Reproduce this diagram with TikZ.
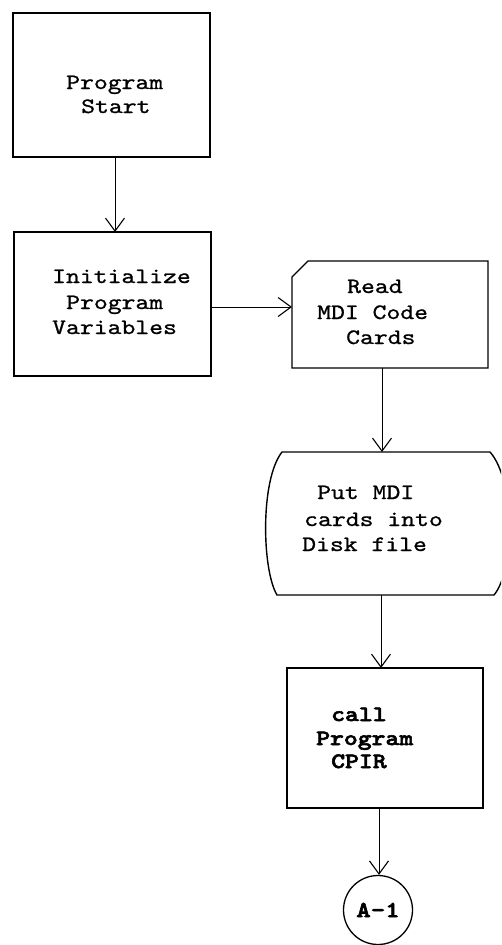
\documentclass[tikz,border=0pt]{standalone}
\usepackage{fontspec}
\usetikzlibrary{arrows.meta,calc}
% typewriter faces, widened to a 10-pitch character cell
\newfontfamily\tw[FakeBold=0.9, FakeStretch=1.2]{lmmono10-regular.otf}
\newfontfamily\twb[FakeBold=2.6, FakeStretch=1.2]{lmmonolt10-bold.otf}
\begin{document}
\begin{tikzpicture}[x=1pt,y=-1pt,
  boxline/.style={line width=1.4pt, line join=miter},
  proc/.style={draw, boxline, rectangle, inner sep=0pt, outer sep=0pt},
  flow/.style={line width=0.9pt, -{Straight Barb[length=13pt,width=19pt,line width=1.1pt]}},
  txt/.style={anchor=base west, inner sep=0pt, font=\tw\fontsize{22}{25.5}\selectfont},
  btxt/.style={txt, font=\twb\fontsize{22}{25.5}\selectfont},
]
\useasboundingbox (0,0) rectangle (501,945);

% process boxes
\node[proc, minimum width=197pt, minimum height=144pt] (start) at (111.5,85) {};
\node[proc, minimum width=197pt, minimum height=144pt] (init) at (112.5,304) {};
\node[proc, minimum width=196pt, minimum height=140pt] (call) at (385,738) {};

% card input (corner cut off)
\node[rectangle, inner sep=0pt, outer sep=0pt, minimum width=196pt, minimum height=107pt] (read) at (390,314.5) {};
\draw[boxline] ($(read.north west)+(0,16)$) -- ($(read.north west)+(16,0)$)
  -- (read.north east) -- (read.south east) -- (read.south west) -- cycle;

% display / disk output
\node[rectangle, inner sep=0pt, outer sep=0pt, minimum width=230pt, minimum height=143pt] (disp) at (385,523.5) {};
\begin{scope}
  \clip (0,0) rectangle (501,945);
  \draw[boxline] (282,452) -- (490,452)
    .. controls (515,480) and (515,570) .. (494,595)
    -- (277,595)
    .. controls (262,570) and (260,480) .. (282,452) -- cycle;
\end{scope}

% connector
\node[draw, circle, line width=1.3pt, minimum size=69pt, inner sep=0pt,
      font=\twb\fontsize{23}{25.5}\selectfont] (a1) at (378,910) {A-1};

% texts
\node[txt] (t1a) at (66,89) {Program};
\node[txt] (t1b) at (81,113) {Start};
\node[txt] (t2a) at (52,283) {Initialize};
\node[txt] (t2b) at (66,309) {Program};
\node[txt] (t2c) at (52,334) {Variables};
\node[txt] (t3a) at (347,293) {Read};
\node[txt] (t3b) at (317,319) {MDI Code};
\node[txt] (t3c) at (346,344) {Cards};
\node[txt] (t4a) at (317,499) {Put MDI};
\node[txt] (t4b) at (304,526) {cards into};
\node[txt] (t4c) at (302,551) {Disk file};
\node[btxt] (t5a) at (331,721) {call};
\node[btxt] (t5b) at (316,745) {Program};
\node[btxt] (t5c) at (331,768) {CPIR};

% flow lines
\coordinate (ax1) at (115,0);
\coordinate (ay) at (0,307);
\coordinate (ax2) at (382,0);
\coordinate (ax3) at (381,0);
\coordinate (ax4) at (379,0);
\draw[flow] (start.south -| ax1) -- (init.north -| ax1);
\draw[flow] (init.east |- ay) -- (read.west |- ay);
\draw[flow] (read.south -| ax2) -- (disp.north -| ax2);
\draw[flow] (disp.south -| ax3) -- (call.north -| ax3);
\draw[flow] (call.south -| ax4) -- (a1.north -| ax4);
\end{tikzpicture}
\end{document}
